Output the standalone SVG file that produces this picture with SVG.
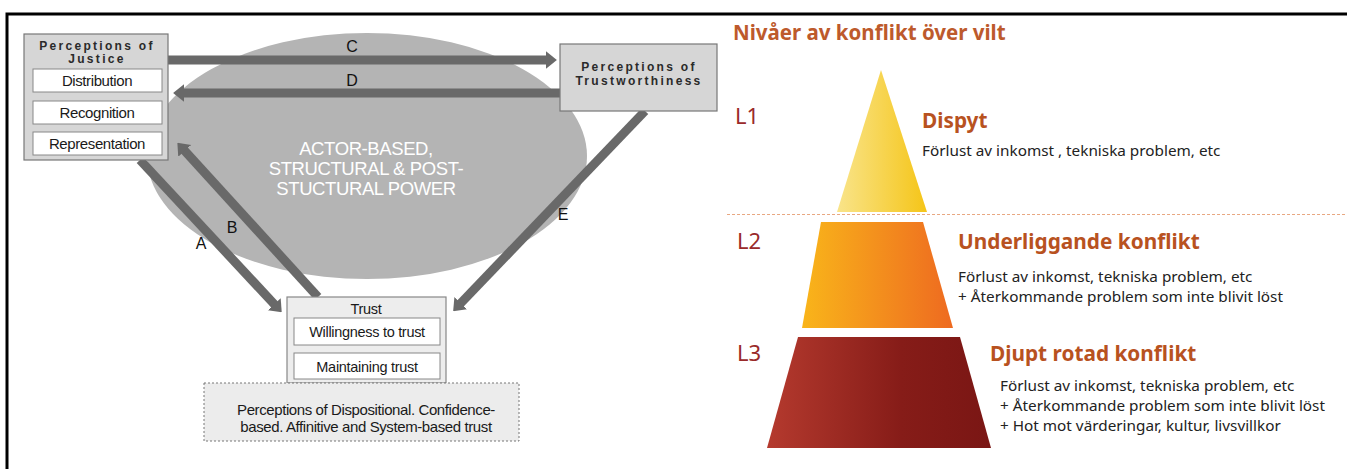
<svg xmlns="http://www.w3.org/2000/svg" width="1347" height="469" viewBox="0 0 1347 469">
<style>
.bt{font-family:"Liberation Sans",Arial,sans-serif;font-weight:bold;font-size:12px;letter-spacing:2.3px;fill:#2a2a2a;text-anchor:middle}
.sb{font-family:"Liberation Sans",Arial,sans-serif;font-size:15px;fill:#1a1a1a;text-anchor:middle;letter-spacing:-0.4px}
.tb{font-family:"Liberation Sans",Arial,sans-serif;font-size:14.5px;fill:#1a1a1a;text-anchor:middle;letter-spacing:-0.3px}
.lab{font-family:"Liberation Sans",Arial,sans-serif;font-size:16px;fill:#111;text-anchor:middle}
.pw{font-family:"Liberation Sans",Arial,sans-serif;font-size:18.5px;fill:#fff;text-anchor:middle;letter-spacing:-0.4px}
.arr{stroke:#696969;stroke-width:9;fill:none}
.lv{font-family:"Noto Sans",sans-serif;font-size:22px;fill:#9a2a2a}
.hd{font-family:"Noto Sans",sans-serif;font-weight:bold;font-size:20.8px;fill:#b8521f}
.tx{font-family:"Noto Sans",sans-serif;font-size:15.3px;fill:#222}
.wb{fill:#fff;stroke:#888;stroke-width:1}
</style>
<defs>
<marker id="ah" viewBox="0 0 10 16" refX="1" refY="8" markerWidth="11" markerHeight="19" markerUnits="userSpaceOnUse" orient="auto"><path d="M0,0 L10,8 L0,16 z" fill="#696969"/></marker>
<linearGradient id="g1" x1="0" x2="1" y1="0" y2="0"><stop offset="0" stop-color="#f9e48a"/><stop offset="1" stop-color="#f5c518"/></linearGradient>
<linearGradient id="g2" x1="0" x2="1" y1="0" y2="0"><stop offset="0" stop-color="#f9b51a"/><stop offset="1" stop-color="#ee6a20"/></linearGradient>
<linearGradient id="g3" x1="0" x2="1" y1="0" y2="0"><stop offset="0" stop-color="#b53a2e"/><stop offset="0.6" stop-color="#861c18"/><stop offset="1" stop-color="#7a1614"/></linearGradient>
</defs>
<rect width="1347" height="469" fill="#fff"/>
<path d="M7,469 L7,14 L1347,14" fill="none" stroke="#000" stroke-width="3"/>

<ellipse cx="367" cy="156" rx="220" ry="123" fill="#b4b4b4"/>
<text class="pw" x="366" y="155">ACTOR-BASED,</text>
<text class="pw" x="366" y="175">STRUCTURAL &amp; POST-</text>
<text class="pw" x="366" y="195">STUCTURAL  POWER</text>

<g id="connectors">
<line class="arr" x1="168" y1="60" x2="547" y2="60" marker-end="url(#ah)"/>
<line class="arr" x1="560" y1="93" x2="183" y2="93" marker-end="url(#ah)"/>
<line class="arr" x1="140" y1="160" x2="275" y2="305" marker-end="url(#ah)"/>
<line class="arr" x1="318" y1="297" x2="184" y2="150" marker-end="url(#ah)"/>
<line class="arr" x1="645" y1="111" x2="460" y2="304" marker-end="url(#ah)"/>
<text class="lab" x="352" y="52">C</text>
<text class="lab" x="352" y="86">D</text>
<text class="lab" x="201" y="249">A</text>
<text class="lab" x="232" y="233">B</text>
<text class="lab" x="563" y="220">E</text>
</g>

<g id="justice">
<rect x="24" y="34" width="144" height="126" fill="#d6d6d6" stroke="#777" stroke-width="1.2"/>
<text class="bt" x="97" y="50">Perceptions of</text>
<text class="bt" x="97" y="63">Justice</text>
<rect class="wb" x="33" y="69" width="129" height="23"/>
<text class="sb" x="97" y="86">Distribution</text>
<rect class="wb" x="33" y="101" width="129" height="23"/>
<text class="sb" x="97" y="118">Recognition</text>
<rect class="wb" x="33" y="132" width="129" height="23"/>
<text class="sb" x="97" y="149">Representation</text>
</g>

<g id="trustworthiness">
<rect x="560" y="44" width="157" height="67" fill="#d6d6d6" stroke="#777" stroke-width="1.2"/>
<text class="bt" x="639" y="71">Perceptions of</text>
<text class="bt" x="639" y="85">Trustworthiness</text>
</g>

<g id="trust">
<rect x="287" y="297" width="159" height="86" fill="#ededed" stroke="#888" stroke-width="1.2"/>
<text class="tb" x="366" y="314">Trust</text>
<rect class="wb" x="294" y="318" width="146" height="27"/>
<text class="tb" x="367" y="337">Willingness to trust</text>
<rect class="wb" x="294" y="353" width="146" height="26"/>
<text class="tb" x="367" y="372">Maintaining trust</text>
</g>

<g id="dispositional">
<rect x="204" y="383" width="315" height="58" fill="#ececec" stroke="#777" stroke-width="1" stroke-dasharray="2,2"/>
<text class="sb" x="366" y="415">Perceptions of Dispositional. Confidence-</text>
<text class="sb" x="366" y="432">based. Affinitive and System-based trust</text>
</g>

<g id="pyramid">
<text x="733" y="40" font-family="Noto Sans,sans-serif" font-weight="bold" font-size="20.5" fill="#bd5a2c">Nivåer av konflikt över vilt</text>
<line x1="727" y1="214.5" x2="1347" y2="214.5" stroke="#e8a882" stroke-width="1" stroke-dasharray="3,2"/>
<g id="l1">
<polygon points="881,70 837,212 927,212" fill="url(#g1)"/>
<text class="lv" x="735" y="124">L1</text>
<text class="hd" x="922" y="128">Dispyt</text>
<text class="tx" x="922" y="156">Förlust av inkomst , tekniska problem, etc</text>
</g>
<g id="l2">
<polygon points="821,222 923,222 953,328 802,328" fill="url(#g2)"/>
<text class="lv" x="737" y="249">L2</text>
<text class="hd" x="958" y="249">Underliggande konflikt</text>
<text class="tx" x="958" y="282">Förlust av inkomst, tekniska problem, etc</text>
<text class="tx" x="958" y="302">+ Återkommande problem som inte blivit löst</text>
</g>
<g id="l3">
<polygon points="798,337 960,337 991,448 767,448" fill="url(#g3)"/>
<text class="lv" x="737" y="361">L3</text>
<text class="hd" x="990" y="361">Djupt rotad konflikt</text>
<text class="tx" x="1000" y="391">Förlust av inkomst, tekniska problem, etc</text>
<text class="tx" x="1000" y="411">+ Återkommande problem som inte blivit löst</text>
<text class="tx" x="1000" y="431">+ Hot mot värderingar, kultur, livsvillkor</text>
</g>
</g>
</svg>
